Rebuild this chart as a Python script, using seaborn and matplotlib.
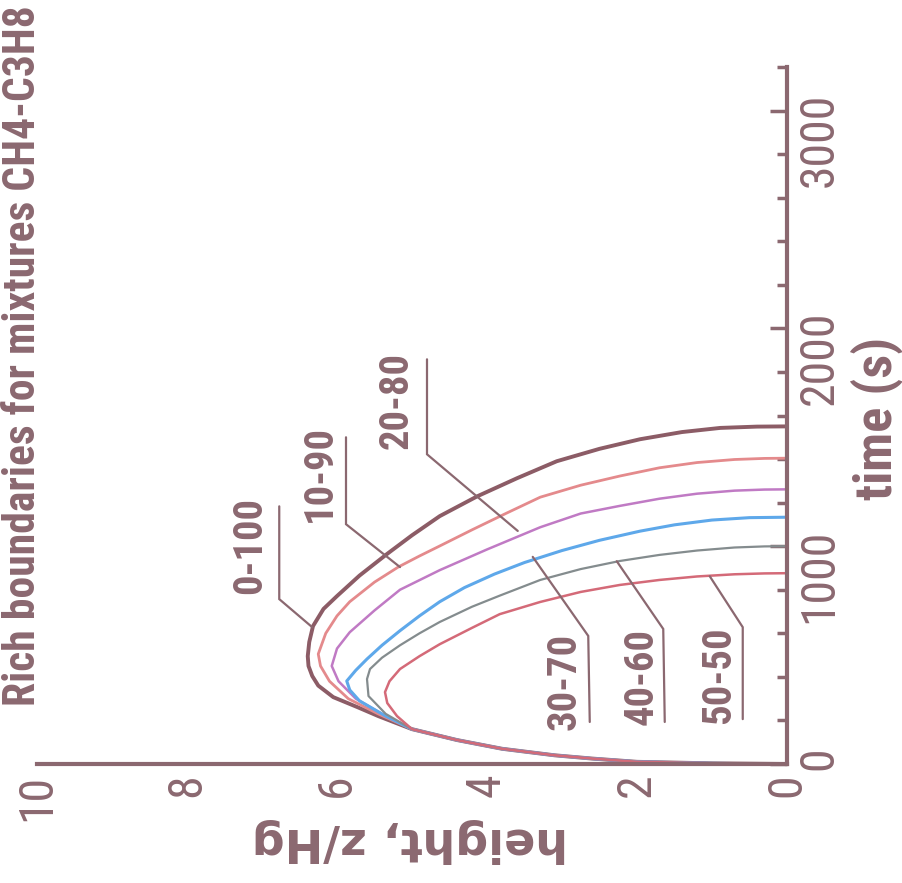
import numpy as np
import pandas as pd
import matplotlib
matplotlib.use("Agg")
import matplotlib.pyplot as plt
from matplotlib import font_manager as fm
from matplotlib.ticker import MultipleLocator
import seaborn as sns

# ---- data: rich-limit boundary height (z/Hg) versus time (s) ----
mixtures = ["0-100", "10-90", "20-80", "30-70", "40-60", "50-50"]

time_0_100 = [0, 3, 10, 25, 40, 70, 110, 160, 220, 260, 307, 360, 404, 450, 495, 560, 633, 712,
              771, 865, 965, 1050, 1138, 1229, 1312, 1390, 1447, 1491, 1524, 1543, 1549, 1550]
height_0_100 = [0, 1.0, 2.0, 2.6, 3.1, 3.8, 4.4, 5.0, 5.45, 5.72, 6.05, 6.25, 6.33, 6.38, 6.39, 6.37, 6.32, 6.18,
                6.0, 5.7, 5.33, 5.0, 4.63, 4.13, 3.6, 3.07, 2.5, 1.96, 1.4, 0.89, 0.4, 0.0]

time_10_90 = [0, 3, 10, 25, 40, 70, 110, 160, 230, 300, 380, 450, 505, 600, 680, 745,
              835, 905, 955, 1001, 1075, 1150, 1225, 1280, 1322, 1360, 1384, 1398, 1403, 1404]
height_10_90 = [0, 1.0, 2.0, 2.6, 3.1, 3.8, 4.4, 5.0, 5.45, 5.85, 6.1, 6.22, 6.25, 6.15, 6.0, 5.83,
                5.5, 5.18, 4.9, 4.63, 4.2, 3.75, 3.29, 2.75, 2.23, 1.7, 1.2, 0.7, 0.3, 0.0]

time_20_80 = [0, 3, 10, 25, 40, 70, 110, 160, 230, 300, 380, 450, 530, 605, 705, 800,
              890, 985, 1087, 1150, 1185, 1218, 1241, 1255, 1260, 1261]
height_20_80 = [0, 1.0, 2.0, 2.6, 3.1, 3.8, 4.4, 5.0, 5.4, 5.75, 5.98, 6.07, 6.0, 5.83, 5.5, 5.16,
                4.63, 4.0, 3.29, 2.75, 2.23, 1.7, 1.2, 0.7, 0.3, 0.0]

time_30_70 = [0, 3, 10, 25, 40, 70, 110, 160, 220, 290, 340, 381, 430, 482, 545, 612, 680, 745,
              810, 872, 925, 980, 1027, 1069, 1098, 1120, 1131, 1133]
height_30_70 = [0, 1.0, 2.0, 2.6, 3.1, 3.8, 4.4, 5.0, 5.35, 5.7, 5.83, 5.87, 5.75, 5.6, 5.4, 5.16, 4.9, 4.63,
                4.3, 3.9, 3.5, 3.0, 2.5, 1.96, 1.5, 1.0, 0.5, 0.0]

time_40_60 = [0, 3, 10, 25, 40, 70, 110, 160, 230, 312, 390, 436, 488, 545, 600, 652,
              722, 773, 845, 895, 932, 960, 980, 994, 999, 1000]
height_40_60 = [0, 1.0, 2.0, 2.6, 3.1, 3.8, 4.4, 5.0, 5.35, 5.58, 5.6, 5.56, 5.4, 5.16, 4.9, 4.63,
                4.2, 3.83, 3.29, 2.75, 2.23, 1.7, 1.2, 0.7, 0.3, 0.0]

time_50_50 = [0, 3, 10, 25, 40, 70, 110, 160, 220, 280, 330, 380, 436, 495, 550, 625,
              688, 744, 790, 822, 845, 861, 871, 875, 876]
height_50_50 = [0, 1.0, 2.0, 2.6, 3.1, 3.8, 4.4, 5.0, 5.2, 5.33, 5.36, 5.3, 5.16, 4.9, 4.63, 4.2,
                3.83, 3.29, 2.75, 2.23, 1.7, 1.2, 0.7, 0.3, 0.0]

series_time = [time_0_100, time_10_90, time_20_80, time_30_70, time_40_60, time_50_50]
series_height = [height_0_100, height_10_90, height_20_80, height_30_70, height_40_60, height_50_50]

line_colors = ["#8c5c66", "#e48a8c", "#c07ac4", "#5ea8ea", "#848c8e", "#d46a78"]
line_widths = [2.8, 2.0, 1.8, 2.2, 1.6, 1.8]

# label placement (height, time) and leader-line vertices
label_pos = [(7.16, 1001), (6.23, 1332), (5.20, 1667), (2.96, 377), (1.94, 400), (0.90, 409)]
leader_height = [[6.77, 6.77, 6.33], [5.88, 5.88, 5.16], [4.80, 4.80, 3.59],
                 [3.39, 2.65, 2.63], [2.27, 1.65, 1.63], [1.03, 0.59, 0.59]]
leader_time = [[1183, 757, 628], [1500, 1101, 904], [1858, 1422, 1070],
               [951, 588, 193], [931, 620, 193], [862, 628, 206]]

title = "Rich boundaries for mixtures CH4-C3H8"
height_ticks = [0, 2, 4, 6, 8, 10]
time_ticks = [0, 1000, 2000, 3000]

# ---- styling ----
sns.set_style("white")
ink = "#8b6870"
available = {f.name for f in fm.fontManager.ttflist}
family = "DejaVu Sans"
for cand in ["Liberation Sans Narrow", "DejaVu Sans Condensed", "Roboto Condensed",
             "Liberation Sans", "Arial"]:
    if cand in available:
        family = cand
        break
plt.rcParams["font.family"] = [family, "DejaVu Sans"]

fig = plt.figure(figsize=(9.02, 8.83), dpi=100)
fig.patch.set_facecolor("white")
ax = fig.add_axes([37 / 902, 1 - 764 / 883, (787 - 37) / 902, (764 - 67) / 883])
renderer = fig.canvas.get_renderer()


def fit_length(txt, target_px, vertical=True):
    """Scale a text's font size so its run length equals target_px."""
    for _ in range(2):
        bb = txt.get_window_extent(renderer)
        length = bb.height if vertical else bb.width
        txt.set_fontsize(txt.get_fontsize() * target_px / length)


frames = []
for name, t, h in zip(mixtures, series_time, series_height):
    frames.append(pd.DataFrame({"mixture": name, "time": t, "height": h}))
df = pd.concat(frames, ignore_index=True)

for name, color, lw in zip(mixtures, line_colors, line_widths):
    sub = df[df["mixture"] == name]
    sns.lineplot(data=sub, x="height", y="time", sort=False, estimator=None,
                 color=color, linewidth=lw, ax=ax, legend=False)

# rotated frame: height runs right-to-left, time runs upward on the right
ax.set_xlim(10, 0)
ax.set_ylim(0, 3200)

for name, (lh, lt), hx, ty in zip(mixtures, label_pos, leader_height, leader_time):
    ax.plot(hx, ty, color=ink, linewidth=1.6, solid_joinstyle="miter")
    lab = ax.text(lh, lt, name, rotation=90, ha="center", va="center", fontsize=26,
                  fontweight="bold", color=ink)
    fit_length(lab, 97)

for side in ["top", "left"]:
    ax.spines[side].set_visible(False)
for side in ["bottom", "right"]:
    ax.spines[side].set_color(ink)
    ax.spines[side].set_linewidth(3)

ax.xaxis.set_minor_locator(MultipleLocator(0.5))
ax.yaxis.set_minor_locator(MultipleLocator(200))
ax.yaxis.tick_right()
ax.set_xticks(height_ticks)
ax.set_xticklabels([str(v) for v in height_ticks])
ax.set_yticks(time_ticks)
ax.set_yticklabels([str(v) for v in time_ticks])

# tick label size sized from a four-digit label
probe = fig.text(0.5, 0.5, "1000", rotation=90, fontsize=30)
fit_length(probe, 94)
tick_size = probe.get_fontsize()
probe.remove()

ax.tick_params(which="both", direction="in", color=ink, width=2.5, labelcolor=ink)
ax.tick_params(which="major", length=12, labelsize=tick_size, pad=7)
ax.tick_params(which="minor", length=7)
ax.tick_params(axis="x", labelrotation=90)
ax.tick_params(axis="y", labelrotation=90, left=False, right=True)
ax.tick_params(axis="y", which="minor", left=False, right=True)
ax.set_xlabel("")
ax.set_ylabel("")

hl = fig.text(410 / 902, 1 - 840 / 883, "height, z/Hg", rotation=180, ha="center", va="center",
              fontsize=34, fontweight="bold", color=ink, family=["DejaVu Sans"])
fit_length(hl, 316, vertical=False)
tl = fig.text(877 / 902, 1 - 418 / 883, "time (s)", rotation=90, ha="center", va="center",
              fontsize=32, fontweight="bold", color=ink)
fit_length(tl, 163)
ttl = fig.text(23 / 902, 1 - 356 / 883, title, rotation=90, ha="center", va="center",
               fontsize=26, fontweight="bold", color=ink)
fit_length(ttl, 700)

fig.savefig("out.png", dpi=100, facecolor="white")
